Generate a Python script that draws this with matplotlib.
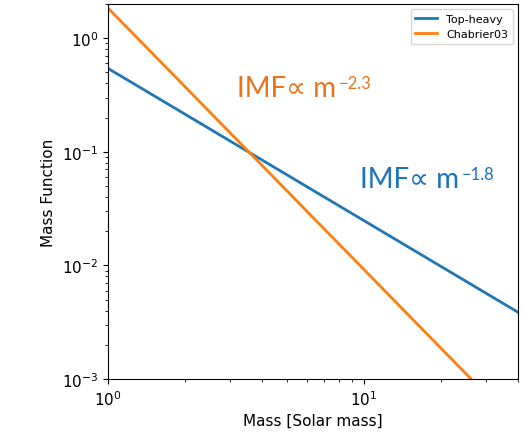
import matplotlib
matplotlib.use("Agg")
import matplotlib.pyplot as plt

mass = [1.0, 40.0]
top_heavy = [0.54, 0.00387]
chabrier03 = [1.83, 0.000379]

fig = plt.figure(figsize=(5.25, 4.39), dpi=100)
ax = fig.add_axes([0.206, 0.134, 0.781, 0.855])
ax.plot(mass, top_heavy, color="#1f77b4", lw=2, label="Top-heavy")
ax.plot(mass, chabrier03, color="#ff7f0e", lw=2, label="Chabrier03")
ax.set_xscale("log")
ax.set_yscale("log")
ax.set_xlim(1, 40)
ax.set_ylim(1e-3, 2.0)
ax.set_xlabel("Mass [Solar mass]", fontsize=11)
ax.set_ylabel("Mass Function", fontsize=11)
ax.tick_params(labelsize=11)
ax.legend(loc="upper right", fontsize=8)

fam = ["Lato", "DejaVu Sans"]
for x, y, exp, col in [(0.315, 0.755, "\u22122.3", "#e8751a"),
                       (0.615, 0.512, "\u22121.8", "#1a72c0")]:
    t = ax.text(x, y, "IMF\u221d m", transform=ax.transAxes, color=col,
                fontsize=20, family=fam, va="baseline")
    ax.annotate(exp, xy=(1, 1), xycoords=t, xytext=(2, 0),
                textcoords="offset points", color=col, fontsize=12,
                family=fam, va="top", ha="left")

fig.savefig("out.png", dpi=100)
